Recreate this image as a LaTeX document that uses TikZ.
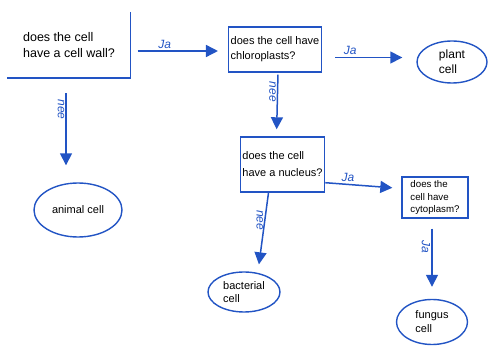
\documentclass[tikz,border=0pt]{standalone}
\usepackage{fontspec}
\setmainfont{Liberation Sans}
\usetikzlibrary{arrows.meta,shapes.geometric}
\definecolor{pen}{RGB}{34,84,196}
\tikzset{
  qbox/.style={draw=pen, line width=1.4pt, inner sep=2pt, align=left, text=black},
  cellell/.style={ellipse, draw=pen, line width=1.4pt, inner sep=0pt, align=left, text=black},
  arr/.style={draw=pen, line width=1.5pt, -{Triangle[length=12pt,width=12pt]}},
  hand/.style={text=pen, font=\itshape\fontsize{12}{12}\selectfont, inner sep=1pt},
}
\begin{document}
\begin{tikzpicture}[x=1pt,y=-1pt]
\useasboundingbox (0,0) rectangle (496,347);
% question boxes
\node[qbox, draw=none, minimum width=122pt, minimum height=65pt, font=\fontsize{12.5}{16}\selectfont] (box1) at (69,45) {does the cell\\have a cell wall?};
\draw[pen, line width=1.4pt] (box1.north east) -- (box1.south east) -- (box1.south west);
\node[qbox, minimum width=90pt, minimum height=45pt, font=\fontsize{11}{15}\selectfont] (box2) at (275,49.5) {does the cell have\\chloroplasts?};
\node[qbox, minimum width=81pt, minimum height=55pt, font=\fontsize{11}{17}\selectfont] (box3) at (282.5,164.5) {does the cell\\have a nucleus?};
\node[qbox, minimum width=66pt, minimum height=41pt, font=\fontsize{9.7}{12.5}\selectfont] (box4) at (435,197.5) {does the\\cell have\\cytoplasm?};
% answer ellipses
\node[cellell, minimum width=88pt, minimum height=54pt, font=\fontsize{11}{14}\selectfont] (animal) at (78,210) {animal cell};
\node[cellell, minimum width=70pt, minimum height=42pt, font=\fontsize{12}{15}\selectfont] (plant) at (452,62) {plant\\cell};
\node[cellell, minimum width=72pt, minimum height=40pt, font=\fontsize{11}{13}\selectfont] (bact) at (244,292) {bacterial\\cell};
\node[cellell, minimum width=71pt, minimum height=45pt, font=\fontsize{11}{14}\selectfont] (fungus) at (432,322) {fungus\\cell};
% connectors
\draw[arr, shorten <=7pt, shorten >=10pt] ([yshift=-6pt]box1.east) -- ([yshift=-6pt]box1.east -| box2.west)
  node[hand, pos=0.35, above=1pt] {Ja};
\draw[arr, shorten <=13pt, shorten >=14pt] ([yshift=-8pt]box2.east) -- ([yshift=-8pt]box2.east -| plant.west)
  node[hand, pos=0.3, above=1pt] {Ja};
\draw[arr, shorten <=2pt, shorten >=7pt] ([xshift=3pt]box2.south) -- ([xshift=-6pt]box3.north)
  node[hand, pos=0.3, rotate=-90, anchor=north] {nee};
\draw[arr, shorten >=9pt] ([yshift=10pt]box3.south east) -- ([yshift=9pt]box4.west)
  node[hand, pos=0.3, above=1pt] {Ja};
\draw[arr, shorten <=10pt, shorten >=12pt] ([xshift=-3pt]box4.south) -- (fungus.north)
  node[hand, pos=0.35, rotate=-90, anchor=north] {Ja};
\draw[arr, shorten >=7pt] ([xshift=-14pt]box3.south) -- ([xshift=14pt]bact.north)
  node[hand, pos=0.35, rotate=-90, anchor=north] {nee};
\draw[arr, shorten <=15pt, shorten >=17pt] ([xshift=-3pt]box1.south) -- ([xshift=-12pt]animal.north)
  node[hand, pos=0.3, rotate=-90, anchor=north] {nee};
\end{tikzpicture}
\end{document}
